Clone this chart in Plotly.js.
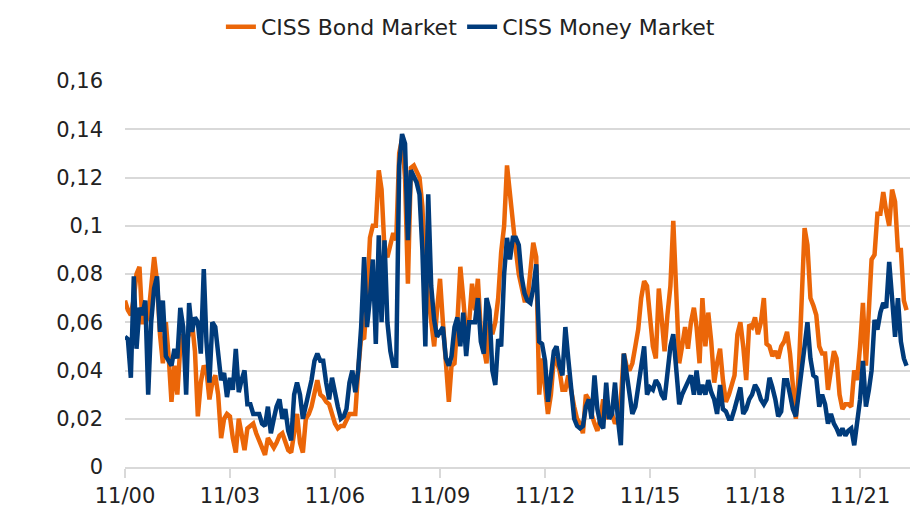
<!DOCTYPE html>
<html>
<head>
<meta charset="utf-8">
<script src="https://cdn.plot.ly/plotly-3.0.1.min.js"></script>
<style>
  html, body { margin: 0; padding: 0; background: #fff; }
  #chart { width: 912px; height: 513px; }
</style>
</head>
<body>
<div id="chart"></div>
<script>
// CISS sub-indices, monthly readings from 11/2000
var startYear = 2000, startMonth = 11;

var bondMarket = [
  0.069, 0.065, 0.063, 0.07, 0.08, 0.083, 0.06, 0.06, 0.062, 0.075,
  0.087, 0.077, 0.055, 0.043, 0.06, 0.045, 0.027, 0.042, 0.03, 0.05,
  0.055, 0.052, 0.055, 0.06, 0.048, 0.021, 0.035, 0.042, 0.04, 0.028,
  0.035, 0.038, 0.03, 0.012, 0.02, 0.022, 0.021, 0.012, 0.006, 0.02,
  0.014, 0.007, 0.016, 0.017, 0.018, 0.014, 0.011, 0.009, 0.005, 0.012,
  0.01, 0.008, 0.01, 0.013, 0.014, 0.01, 0.007, 0.006, 0.015, 0.022,
  0.01, 0.006, 0.02, 0.022, 0.025, 0.03, 0.036, 0.03, 0.029, 0.027,
  0.026, 0.022, 0.018, 0.016, 0.017, 0.017, 0.02, 0.022, 0.022, 0.022,
  0.04, 0.054, 0.053, 0.07, 0.095, 0.10, 0.10, 0.123, 0.115, 0.09,
  0.087, 0.093, 0.097, 0.094, 0.13, 0.136, 0.12, 0.076, 0.124, 0.125,
  0.122, 0.12, 0.108, 0.08, 0.071, 0.06, 0.05, 0.065, 0.078, 0.06,
  0.045, 0.027, 0.042, 0.043, 0.06, 0.083, 0.07, 0.055, 0.06, 0.076,
  0.065, 0.078, 0.056, 0.049, 0.043, 0.06, 0.055, 0.06, 0.07, 0.089,
  0.10, 0.125, 0.112, 0.101, 0.09, 0.08, 0.074, 0.069, 0.069, 0.08,
  0.093, 0.087, 0.03, 0.045, 0.035, 0.022, 0.03, 0.045, 0.044, 0.04,
  0.032, 0.032, 0.038, 0.03, 0.025, 0.02, 0.018, 0.014, 0.03, 0.028,
  0.022, 0.018, 0.015, 0.02, 0.028, 0.02, 0.022, 0.022, 0.018, 0.02,
  0.028, 0.047, 0.042, 0.04, 0.043, 0.05, 0.057, 0.07, 0.077, 0.075,
  0.062, 0.05, 0.045, 0.074, 0.062, 0.048, 0.063, 0.075, 0.102, 0.07,
  0.043, 0.05, 0.058, 0.049, 0.06, 0.066, 0.058, 0.043, 0.07, 0.05,
  0.064, 0.052, 0.035, 0.043, 0.049, 0.036, 0.027, 0.03, 0.034, 0.038,
  0.055, 0.06, 0.05, 0.036, 0.059, 0.058, 0.062, 0.055, 0.06, 0.07,
  0.051, 0.05, 0.046, 0.048, 0.045, 0.05, 0.052, 0.056, 0.047, 0.035,
  0.02, 0.04, 0.072, 0.099, 0.092, 0.07, 0.067, 0.063, 0.05, 0.047,
  0.047, 0.032, 0.04, 0.048, 0.045, 0.03, 0.024, 0.026, 0.026, 0.025,
  0.04, 0.036, 0.05, 0.068, 0.042, 0.07, 0.086, 0.088, 0.105, 0.105,
  0.114, 0.106, 0.1, 0.115, 0.11, 0.09, 0.09, 0.069, 0.065
];

var moneyMarket = [
  0.054, 0.053, 0.037, 0.079, 0.049, 0.066, 0.063, 0.069, 0.03, 0.06,
  0.074, 0.079, 0.056, 0.069, 0.046, 0.044, 0.042, 0.049, 0.045, 0.066,
  0.058, 0.03, 0.068, 0.056, 0.062, 0.06, 0.047, 0.082, 0.052, 0.035,
  0.06, 0.058, 0.045, 0.036, 0.039, 0.029, 0.037, 0.032, 0.049, 0.031,
  0.036, 0.04, 0.026, 0.026, 0.022, 0.022, 0.022, 0.018, 0.017, 0.025,
  0.014, 0.02, 0.025, 0.028, 0.02, 0.024, 0.015, 0.011, 0.03, 0.035,
  0.03, 0.02, 0.026, 0.03, 0.036, 0.044, 0.047, 0.044, 0.044, 0.035,
  0.028, 0.037, 0.03, 0.025, 0.02, 0.021, 0.024, 0.035, 0.04, 0.031,
  0.04, 0.058, 0.087, 0.058, 0.07, 0.086, 0.051, 0.096, 0.06, 0.094,
  0.06, 0.048, 0.042, 0.042, 0.125, 0.138, 0.134, 0.094, 0.123, 0.12,
  0.118, 0.113, 0.09, 0.05, 0.113, 0.075, 0.061, 0.054, 0.056, 0.058,
  0.045, 0.042, 0.046, 0.058, 0.062, 0.05, 0.064, 0.046, 0.06, 0.06,
  0.06, 0.07, 0.052, 0.047, 0.07, 0.065, 0.04, 0.034, 0.053, 0.05,
  0.08, 0.095, 0.086, 0.095, 0.095, 0.092, 0.079, 0.072, 0.069, 0.068,
  0.074, 0.084, 0.052, 0.051, 0.044, 0.027, 0.036, 0.048, 0.05, 0.042,
  0.038, 0.058, 0.045, 0.032, 0.02, 0.017, 0.016, 0.017, 0.025, 0.028,
  0.02, 0.038, 0.024, 0.018, 0.016, 0.035, 0.02, 0.022, 0.035, 0.02,
  0.009, 0.047, 0.04, 0.03, 0.022, 0.025, 0.033, 0.04, 0.05, 0.03,
  0.033, 0.032, 0.036, 0.034, 0.03, 0.028, 0.038, 0.05, 0.055, 0.04,
  0.026, 0.03, 0.033, 0.036, 0.038, 0.03, 0.04, 0.03, 0.034, 0.03,
  0.036, 0.031, 0.028, 0.022, 0.034, 0.024, 0.023, 0.02, 0.02, 0.024,
  0.028, 0.033, 0.022, 0.024, 0.028, 0.03, 0.034, 0.032, 0.028, 0.026,
  0.028, 0.037, 0.033, 0.028, 0.021, 0.023, 0.036, 0.036, 0.03, 0.024,
  0.021, 0.03, 0.039, 0.05, 0.06, 0.045, 0.038, 0.037, 0.025, 0.03,
  0.026, 0.018, 0.022, 0.018, 0.016, 0.013, 0.016, 0.013, 0.015, 0.016,
  0.009, 0.02, 0.028, 0.044, 0.025, 0.032, 0.04, 0.061, 0.057, 0.064,
  0.068, 0.066, 0.085, 0.07, 0.054, 0.07, 0.052, 0.045, 0.042
];

var xTickVals = ["2000-11-01", "2003-11-01", "2006-11-01", "2009-11-01",
                 "2012-11-01", "2015-11-01", "2018-11-01", "2021-11-01"];
var xTickText = ["11/00", "11/03", "11/06", "11/09", "11/12", "11/15", "11/18", "11/21"];
var yTickVals = [0, 0.02, 0.04, 0.06, 0.08, 0.1, 0.12, 0.14, 0.16];
var yTickText = ["0", "0,02", "0,04", "0,06", "0,08", "0,1", "0,12", "0,14", "0,16"];

// one date per reading, month by month
var dates = bondMarket.map(function(v, i) {
  var m = startMonth - 1 + i;
  var y = startYear + Math.floor(m / 12);
  var mm = (m % 12) + 1;
  return y + "-" + (mm < 10 ? "0" + mm : mm) + "-01";
});

var font = "'DejaVu Sans', sans-serif";

var bond = {
  x: dates, y: bondMarket,
  name: "CISS Bond Market",
  type: "scatter", mode: "lines",
  line: {color: "#EB6608", width: 4.5}
};
var money = {
  x: dates, y: moneyMarket,
  name: "CISS Money Market",
  type: "scatter", mode: "lines",
  line: {color: "#003B7B", width: 4.5}
};

var layout = {
  width: 912, height: 513,
  margin: {l: 125, r: 2, t: 81, b: 46},
  paper_bgcolor: "#fff", plot_bgcolor: "#fff",
  font: {family: font, size: 21, color: "#222"},
  showlegend: true,
  legend: {
    orientation: "h", x: 0.44, xanchor: "center",
    y: 1.14, yanchor: "middle",
    font: {family: font, size: 22, color: "#222"},
    itemwidth: 30, tracegroupgap: 0
  },
  xaxis: {
    type: "date",
    range: ["2000-11-01", "2023-04-06"],
    tickvals: xTickVals, ticktext: xTickText, tickangle: 0,
    showgrid: false, zeroline: false,
    showline: true, linecolor: "#d9d9d9", linewidth: 2,
    ticks: "outside", ticklen: 9, tickcolor: "#d9d9d9", tickwidth: 2,
    tickfont: {family: font, size: 21, color: "#222"}
  },
  yaxis: {
    range: [0, 0.16],
    tickvals: yTickVals, ticktext: yTickText,
    showgrid: true, gridcolor: "#d9d9d9", gridwidth: 2,
    zeroline: false, showline: false,
    ticks: "", ticklabelstandoff: 21,
    tickfont: {family: font, size: 21, color: "#222"}
  },
  hovermode: false
};

Plotly.newPlot("chart", [bond, money], layout, {staticPlot: true, displayModeBar: false});
</script>
</body>
</html>
